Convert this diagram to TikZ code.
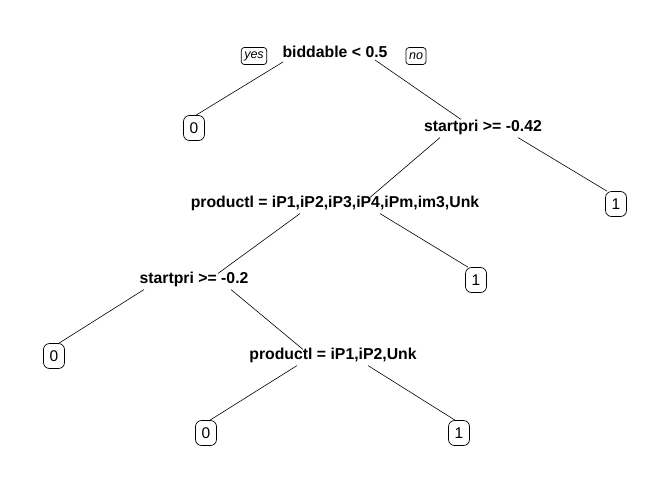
\documentclass[tikz,border=0pt]{standalone}
\usepackage{fontspec}
\setmainfont{Liberation Sans}
\begin{document}
\begin{tikzpicture}[x=1pt,y=-1pt,
  split/.style={inner sep=0pt,font=\fontsize{15.8}{18}\selectfont\bfseries},
  leaf/.style={draw,rounded corners=6pt,line width=0.7pt,minimum width=21pt,minimum height=25pt,inner sep=0pt,font=\fontsize{15.5}{18}\selectfont},
  tag/.style={draw,rounded corners=3pt,line width=0.7pt,minimum height=17pt,inner sep=3pt,font=\fontsize{12.5}{14}\selectfont\itshape},
  edge/.style={line width=0.6pt}]
\useasboundingbox[fill=white] (0,0) rectangle (672,480);
\node[split] (root) at (335,52) {biddable < 0.5};
\node[tag] (yes) at (254,56) {yes};
\node[tag] (no) at (416,56) {no};
\node[leaf] (l1) at (194,128) {0};
\node[split] (s1) at (483,127) {startpri >= -0.42};
\node[leaf] (l2) at (616,204) {1};
\node[split] (p1) at (335,203) {productl = iP1,iP2,iP3,iP4,iPm,im3,Unk};
\node[leaf] (l3) at (476,280) {1};
\node[split] (s2) at (194,279) {startpri >= -0.2};
\node[leaf] (l4) at (54,356) {0};
\node[split] (p2) at (333,355) {productl = iP1,iP2,Unk};
\node[leaf] (l5) at (206,433) {0};
\node[leaf] (l6) at (459,433) {1};
\draw[edge] ([xshift=-52pt,yshift=-4pt]root.south) -- ([xshift=2pt]l1.north);
\draw[edge] ([xshift=40pt,yshift=-2pt]root.south) -- ([xshift=-22pt]s1.north);
\draw[edge] ([xshift=35pt,yshift=-3pt]s1.south) -- ([xshift=-9pt]l2.north);
\draw[edge] ([xshift=-43pt,yshift=-3pt]s1.south) -- ([xshift=35pt,yshift=-2pt]p1.north);
\draw[edge] ([xshift=-35pt,yshift=-3pt]p1.south) -- ([xshift=24pt,yshift=-2pt]s2.north);
\draw[edge] ([xshift=45pt,yshift=-3pt]p1.south) -- ([xshift=-8pt]l3.north);
\draw[edge] ([xshift=-50pt,yshift=-3pt]s2.south) -- ([xshift=5pt]l4.north);
\draw[edge] ([xshift=37pt,yshift=-3pt]s2.south) -- ([xshift=-30pt,yshift=-2pt]p2.north);
\draw[edge] ([xshift=-36pt,yshift=-3pt]p2.south) -- ([xshift=4pt]l5.north);
\draw[edge] ([xshift=35pt,yshift=-3pt]p2.south) -- ([xshift=-4pt]l6.north);
\end{tikzpicture}
\end{document}
